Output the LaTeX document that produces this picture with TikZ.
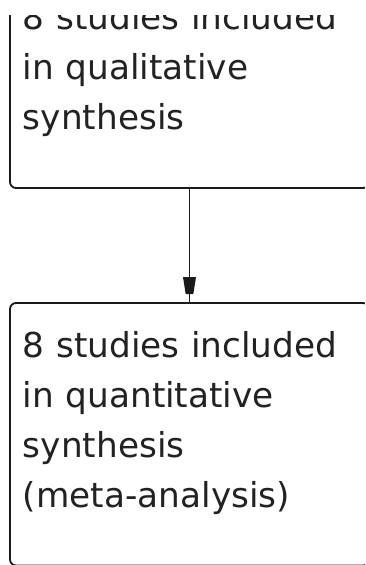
\documentclass[tikz,border=0pt]{standalone}
\usepackage{fontspec}
\setmainfont{DejaVu Sans}
\usetikzlibrary{calc}
\begin{document}
\begin{tikzpicture}[x=1pt,y=1pt,
  flowbox/.style={draw=linecol, line width=1.8pt, rounded corners=6pt,
    inner xsep=13pt, inner ysep=0pt, text width=333pt, align=left,
    text height=54pt, font=\fontsize{34.3}{50.3}\selectfont, text=textcol},
  conn/.style={draw=linecol, line width=1.6pt},
  headfill/.style={fill=linecol}]
\definecolor{linecol}{HTML}{1A1A1A}
\definecolor{textcol}{HTML}{222222}
\useasboundingbox (0,0) rectangle (365,-565);
\fill[white] (0,0) rectangle (365,-565);
\clip (0,-15) rectangle (365,-565);
\node[flowbox, text depth=159pt] (qual) at (189.5,-81.5)
  {8 studies included\\in qualitative\\synthesis};
\node[flowbox, text depth=208.5pt] (quant) at (189.5,-434.25)
  {8 studies included\\in quantitative\\synthesis\\(meta-analysis)};
\draw[conn] (qual.south) -- (quant.north);
\fill[headfill] ($(quant.north)+(-6.5,25)$) -- ++(13,0) -- ++(-2.7,-17) -- ++(-7.6,0) -- cycle;
\end{tikzpicture}
\end{document}
